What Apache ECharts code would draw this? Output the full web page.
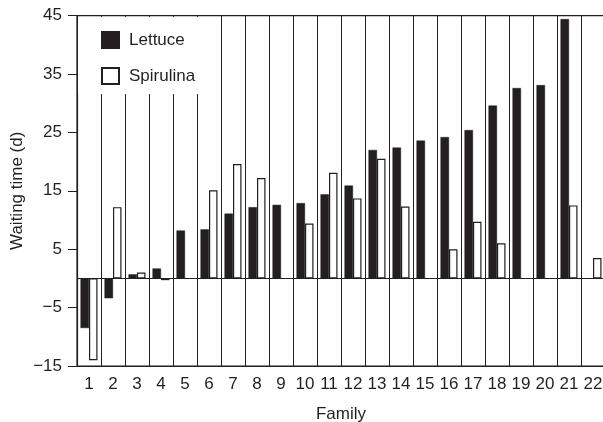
<!DOCTYPE html>
<html>
<head>
<meta charset="utf-8">
<script src="https://cdn.jsdelivr.net/npm/echarts@6/dist/echarts.min.js"></script>
<style>html,body{margin:0;padding:0;background:#fff;}#c{width:603px;height:422px;}</style>
</head>
<body>
<div id="c"></div>
<script>
var families = ['1','2','3','4','5','6','7','8','9','10','11','12','13','14','15','16','17','18','19','20','21','22'];
var lettuce = [-8.5, -3.4, 0.7, 1.7, 8.2, 8.4, 11.1, 12.2, 12.6, 12.9, 14.4, 15.9, 22.0, 22.4, 23.6, 24.2, 25.4, 29.6, 32.6, 33.1, 44.4, null];
var spirulina = [-14.0, 12.2, 1.0, -0.3, null, 15.1, 19.6, 17.2, null, 9.4, 18.1, 13.7, 20.5, 12.3, null, 5.0, 9.7, 6.0, null, null, 12.5, 3.5];
var yTicks = [-15, -5, 5, 15, 25, 35, 45];

var ink = '#231f20';
var font = "'Liberation Sans', Arial, sans-serif";
var fs = 17;
var chart = echarts.init(document.getElementById('c'));
chart.setOption({
  animation: false,
  textStyle: { fontFamily: font, color: ink },
  grid: { left: 77, right: -2, top: 15.6, bottom: 56, outerBoundsMode: 'none', containLabel: false,
    show: true, borderColor: ink, borderWidth: 1.2, backgroundColor: 'transparent' },
  legend: {
    orient: 'vertical', left: 78, top: 17,
    padding: [14, 6, 9, 23],
    backgroundColor: '#fff',
    itemWidth: 17, itemHeight: 16, itemGap: 18,
    icon: 'rect',
    textStyle: { fontSize: fs, color: ink, fontFamily: font, padding: [0, 0, 0, 5] },
    data: ['Lettuce', 'Spirulina']
  },
  xAxis: {
    type: 'category', data: families,
    name: 'Family', nameLocation: 'middle', nameGap: 40, nameMoveOverlap: false,
    nameTextStyle: { fontSize: fs, color: ink, fontFamily: font },
    axisLine: { onZero: false, lineStyle: { color: ink, width: 1.2 } },
    axisTick: { show: false },
    axisLabel: { fontSize: fs, color: ink, margin: 10, fontFamily: font, interval: 0 },
    splitLine: { show: true, interval: 0, lineStyle: { color: ink, width: 1 } }
  },
  yAxis: {
    type: 'value', min: -15, max: 45, interval: 5,
    name: 'Waiting time (d)', nameLocation: 'middle', nameGap: 51, nameMoveOverlap: false,
    nameTextStyle: { fontSize: fs, color: ink, fontFamily: font },
    axisLine: { show: true, lineStyle: { color: ink, width: 1.2 } },
    axisTick: { show: true, length: 9, customValues: yTicks, lineStyle: { color: ink } },
    axisLabel: { fontSize: fs, color: ink, margin: 15, customValues: yTicks, fontFamily: font,
      formatter: function (v) { return v < 0 ? '\u2212' + Math.abs(v) : String(v); } },
    splitLine: { show: false }
  },
  series: [
    {
      name: 'Lettuce', type: 'bar', data: lettuce,
      barWidth: 8.5, barGap: '0%',
      itemStyle: { color: ink, borderColor: ink, borderWidth: 0.5 },
      markLine: { silent: true, symbol: 'none', label: { show: false },
        lineStyle: { color: ink, width: 1.2, type: 'solid' }, data: [{ yAxis: 0 }] }
    },
    {
      name: 'Spirulina', type: 'bar', data: spirulina,
      barWidth: 8.5, barGap: '0%',
      itemStyle: { color: '#fff', borderColor: ink, borderWidth: 1.2 }
    }
  ]
});
</script>
</body>
</html>
